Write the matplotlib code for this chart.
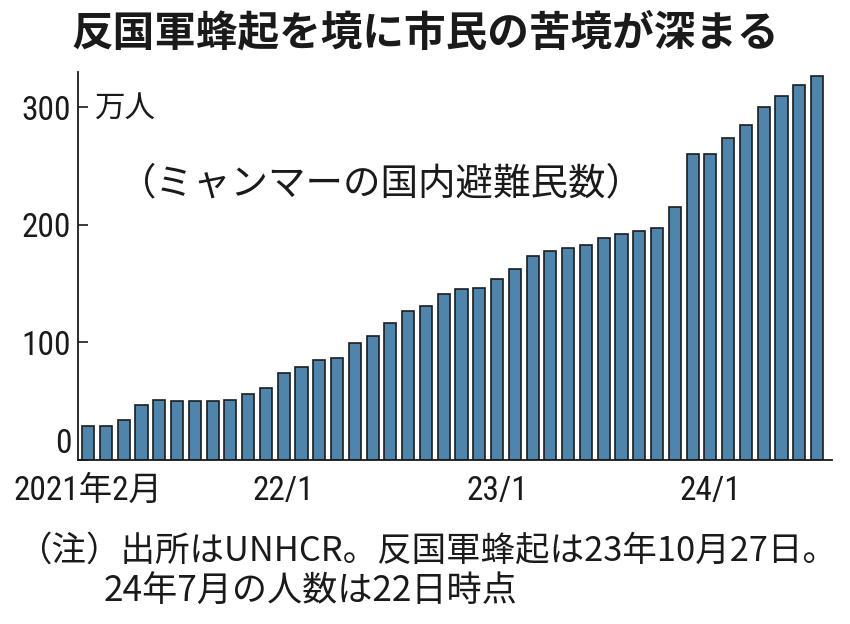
import matplotlib
matplotlib.use("Agg")
import matplotlib.pyplot as plt
from matplotlib import font_manager

# monthly values, 2021/2 .. 2024/7 (10,000 people)
months = list(range(42))
idp = [29, 29, 34, 47, 51, 50, 50, 50, 51, 56,
       61, 74, 79, 85, 87, 99, 105, 116, 127, 131,
       141, 145, 146, 154, 162, 173, 178, 180, 183, 189,
       192, 195, 197, 215, 260, 260, 274, 285, 300, 309,
       319, 326]
tick_pos = [0, 11, 23, 35]
tick_labels = ["2021年2月", "22/1", "23/1", "24/1"]

fl = font_manager.fontManager.ttflist
names = {f.name for f in fl}
stretch = "normal"
narrow = None
for cand in ["Roboto Condensed", "Liberation Sans Narrow", "Open Sans Condensed", "Noto Sans Condensed"]:
    if cand in names:
        narrow = cand
        break
if narrow is None:
    for f in fl:
        if f.stretch in ("condensed", "semi-condensed", 75, 87) and f.name in ("DejaVu Sans", "Noto Sans", "Open Sans", "Roboto"):
            narrow = f.name
            stretch = "condensed"
            break
if narrow is None:
    narrow = "DejaVu Sans"
jp = "Noto Sans CJK JP"
fam = [narrow, jp, "DejaVu Sans"]
plt.rcParams["font.family"] = fam
plt.rcParams["font.stretch"] = stretch

fig = plt.figure(figsize=(8.5, 6.24), dpi=100)
ax = fig.add_axes([0.092, 0.263, 0.887, 0.622])

ax.bar(months, idp, width=0.68, color="#4d85ac", edgecolor="#1c1c1c", linewidth=1.2)

ax.set_xlim(-0.56, 41.85)
ax.set_ylim(0, 330)
ax.set_yticks([0, 100, 200, 300])
ax.set_xticks(tick_pos)
ax.set_xticklabels(tick_labels)
ax.tick_params(axis="y", direction="in", length=7, width=1.2, labelsize=24, pad=5, colors="#1a1a1a")
ax.tick_params(axis="x", length=0, labelsize=24, pad=11, colors="#1a1a1a")
ax.get_yticklabels()[0].set_va("bottom")
for s in ["top", "right"]:
    ax.spines[s].set_visible(False)
for s in ["left", "bottom"]:
    ax.spines[s].set_linewidth(1.3)
    ax.spines[s].set_color("#1a1a1a")

fig.text(0.5, 0.947, "反国軍蜂起を境に市民の苦境が深まる", ha="center", va="center",
         fontsize=30, fontweight="bold", family=[jp], color="#1a1a1a")
ax.text(0.022, 0.905, "万人", transform=ax.transAxes, ha="left", va="center",
        fontsize=22, family=[jp], color="#1a1a1a")
ax.text(0.054, 0.71, "（ミャンマーの国内避難民数）", transform=ax.transAxes, ha="left", va="center",
        fontsize=27, family=[jp], color="#1a1a1a")

fig.text(0.02, 0.117, "（注）出所はUNHCR。反国軍蜂起は23年10月27日。", ha="left", va="center",
         fontsize=24.8, family=[jp], color="#1a1a1a")
fig.text(0.122, 0.052, "24年7月の人数は22日時点", ha="left", va="center",
         fontsize=25.3, family=[jp], color="#1a1a1a")

fig.savefig("out.png", dpi=100)
